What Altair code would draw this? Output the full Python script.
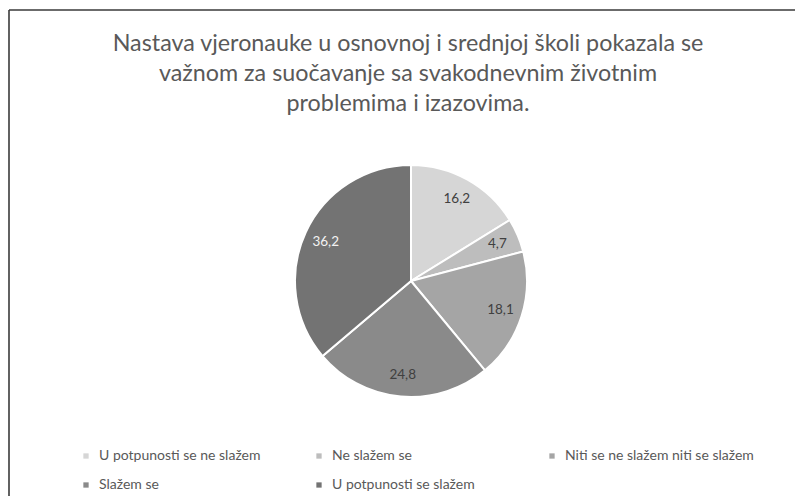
import altair as alt
import pandas as pd

categories = [
    "U potpunosti se ne slažem",
    "Ne slažem se",
    "Niti se ne slažem niti se slažem",
    "Slažem se",
    "U potpunosti se slažem",
]
values = [16.2, 4.7, 18.1, 24.8, 36.2]
labels = ["16,2", "4,7", "18,1", "24,8", "36,2"]
colors = ["#d6d6d6", "#bdbdbd", "#a5a5a5", "#8a8a8a", "#737373"]
label_colors = ["#404040", "#404040", "#404040", "#404040", "#f2f2f2"]
title_lines = [
    "Nastava vjeronauke u osnovnoj i srednjoj školi pokazala se",
    "važnom za suočavanje sa svakodnevnim životnim",
    "problemima i izazovima.",
]

W, H = 787, 488
CX, CY = 403, 273
R = 116
FONT = "Lato"

df = pd.DataFrame({
    "cat": categories,
    "val": values,
    "lab": labels,
    "idx": list(range(len(values))),
    "lc": label_colors,
})

theta = alt.Theta("val:Q", stack=True)
order = alt.Order("idx:Q")

arcs = alt.Chart(df).mark_arc(outerRadius=R, stroke="white", strokeWidth=2).encode(
    theta=theta,
    order=order,
    x=alt.value(CX),
    y=alt.value(CY),
    color=alt.Color(
        "cat:N",
        scale=alt.Scale(domain=categories, range=colors),
        sort=categories,
        legend=alt.Legend(
            title=None,
            orient="none",
            legendX=71,
            legendY=441,
            direction="horizontal",
            columns=3,
            gridAlign="all",
            columnPadding=24,
            rowPadding=15,
            symbolType="square",
            symbolSize=28,
            symbolStrokeWidth=0,
            labelFont=FONT,
            labelFontSize=14,
            labelColor="#595959",
            labelOffset=6,
            labelLimit=400,
            padding=0,
        ),
    ),
)

text = alt.Chart(df).mark_text(radius=94, font=FONT, fontSize=13.5).encode(
    theta=theta,
    order=order,
    x=alt.value(CX),
    y=alt.value(CY),
    text="lab:N",
    color=alt.Color("lc:N", scale=None),
)

title = alt.Chart(pd.DataFrame({"t": ["\n".join(title_lines)]})).mark_text(
    font=FONT, fontSize=23.3, lineBreak="\n", lineHeight=30,
    baseline="alphabetic", align="center", color="#595959",
).encode(text="t:N", x=alt.value(400), y=alt.value(43))

border_df = pd.DataFrame({"k": [0]})
left_rule = alt.Chart(border_df).mark_rule(color="#3a3a3a", strokeWidth=1.6).encode(
    x=alt.value(1), y=alt.value(2), y2=alt.value(H)
)
top_rule = alt.Chart(border_df).mark_rule(color="#3a3a3a", strokeWidth=1.6).encode(
    x=alt.value(1), x2=alt.value(W), y=alt.value(2)
)

chart = alt.layer(arcs, text, title, left_rule, top_rule).properties(
    width=W, height=H, padding=0, autosize=alt.AutoSizeParams(type="none"),
    background="white",
).configure_view(stroke=None)

chart.save("out.html", embed_options={"renderer": "svg", "actions": False})
